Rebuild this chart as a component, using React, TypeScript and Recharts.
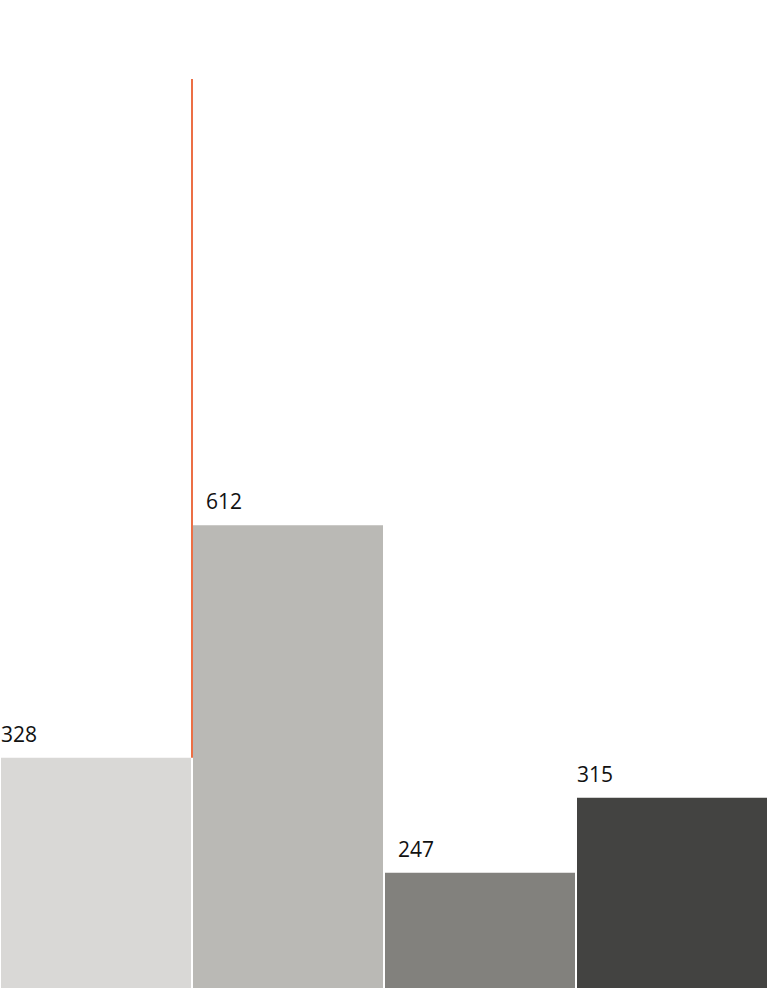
import { BarChart, Bar, XAxis, YAxis, Cell, LabelList, ReferenceLine } from 'recharts';

// bar heights (plot top = 1200)
const positions = [0.5, 1.5, 2.5, 3.5];
const heights = [304, 611, 152, 251];
const labels = ['328', '612', '247', '315'];

// orange marker at the boundary of the first two bars
const markerX = 1;
const markerTop = 1200;

const COLORS = ['#d9d8d6', '#bab9b5', '#82817d', '#434341'];
const LABEL_DX = [0, 13, 13, 0];

const data = positions.map((x, i) => ({ x, height: heights[i], label: labels[i] }));

const BarLabel = (props: any) => {
  const { x, y, index, value } = props;
  return (
    <text
      x={x + LABEL_DX[index]}
      y={y - 16}
      fill="#111"
      fontSize={21}
      fontFamily="'Open Sans', sans-serif"
    >
      {value}
    </text>
  );
};

export default function App() {
  return (
    <div style={{ position: 'absolute', left: 0, top: 0, background: '#fff' }}>
      <BarChart
        width={769}
        height={1006}
        data={data}
        margin={{ top: 79, right: 1, bottom: 18, left: 0 }}
      >
        <XAxis dataKey="x" type="number" domain={[0, 4]} hide />
        <YAxis type="number" domain={[0, 1200]} hide />
        <Bar dataKey="height" barSize={190} isAnimationActive={false}>
          {data.map((entry, index) => (
            <Cell key={`cell-${index}`} fill={COLORS[index]} />
          ))}
          <LabelList dataKey="label" content={<BarLabel />} />
        </Bar>
        <ReferenceLine
          segment={[
            { x: markerX, y: heights[0] },
            { x: markerX, y: markerTop },
          ]}
          stroke="#ec6f45"
          strokeWidth={2}
        />
      </BarChart>
    </div>
  );
}
